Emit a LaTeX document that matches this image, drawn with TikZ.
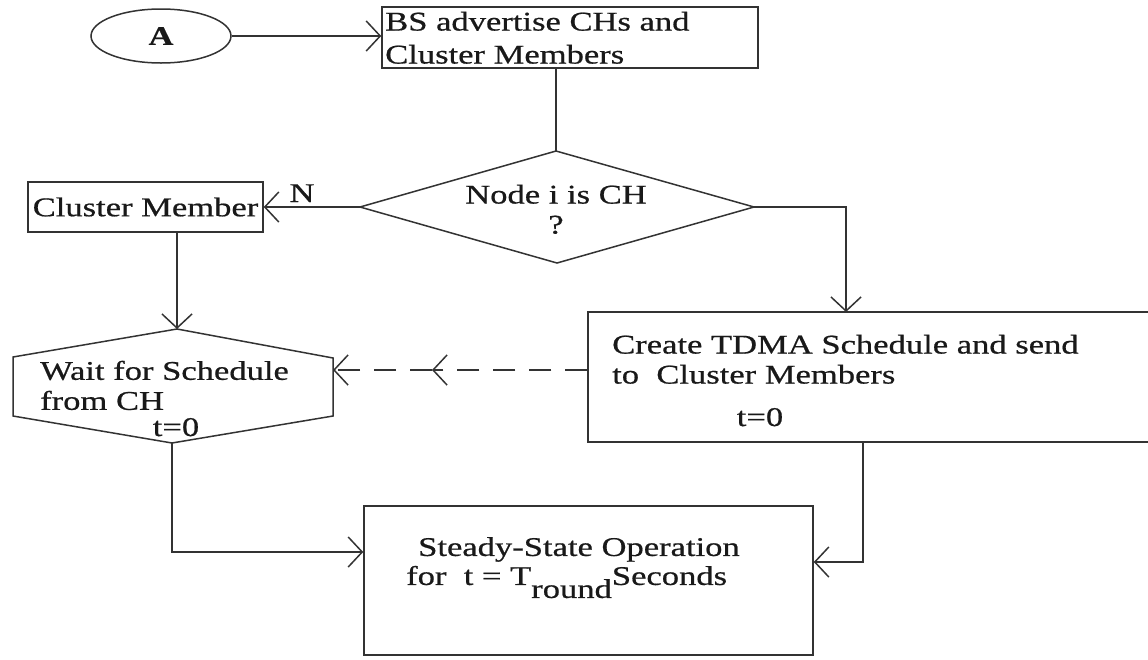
\documentclass[tikz,border=0pt]{standalone}
\usepackage{fontspec}
\setmainfont{Liberation Serif}[FakeStretch=1.28,FakeBold=0.6]
\usetikzlibrary{arrows.meta,shapes.geometric}
\begin{document}
\begin{tikzpicture}[x=1pt,y=-1pt,
  ln/.style={line width=1.5pt, draw=black!80},
  arr/.style={ln, -{Straight Barb[length=14pt,width=30pt,line width=1.5pt]}},
  dsh/.style={arr, dash pattern=on 22pt off 14pt},
  txt/.style={font=\fontsize{27}{30}\selectfont, inner sep=0pt, text=black!90},
  box/.style={ln, draw, fill=none, inner sep=0pt}
]
\useasboundingbox[fill=white] (0,0) rectangle (1148,659);

% ellipse A
\node[box, ellipse, minimum width=140pt, minimum height=54pt, txt] (A) at (161,36) {\bfseries A};

% BS box
\node[box, minimum width=376pt, minimum height=61pt] (BS) at (570,37.5) {};
\node[txt, font=\fontsize{27}{33}\selectfont, anchor=north west, align=left] (BStxt) at (385,11.6) {BS advertise CHs and\\Cluster Members};

% diamond
\coordinate (Dt) at (556,151);
\coordinate (Dr) at (754,207);
\coordinate (Db) at (557,263);
\coordinate (Dl) at (360,207);
\draw[ln] (Dt) -- (Dr) -- (Db) -- (Dl) -- cycle;
\node[txt, align=center, anchor=north] (Dtxt) at (556,184.6) {Node i is CH\\?};

% cluster member
\node[box, minimum width=235pt, minimum height=50pt, txt] (CM) at (145.5,207) {Cluster Member};
\node[txt, anchor=base] (N) at (302,202) {N};

% hexagon
\coordinate (Ht) at (177,329);
\coordinate (Hr1) at (333,358);
\coordinate (Hr2) at (333,416);
\coordinate (Hb) at (172,443);
\coordinate (Hl2) at (13,416);
\coordinate (Hl1) at (13,357);
\coordinate (Hr) at (333,370);
\draw[ln] (Ht) -- (Hr1) -- (Hr2) -- (Hb) -- (Hl2) -- (Hl1) -- cycle;
\node[txt, anchor=north west, align=left] (Wtxt) at (40,360.6) {Wait for Schedule\\from CH};
\node[txt, anchor=base] (Wt) at (176,436) {t=0};

% TDMA box
\node[box, minimum width=564pt, minimum height=130pt] (TD) at (870,377) {};
\node[txt, anchor=north west, align=left] (TDtxt) at (612,334.6) {Create TDMA Schedule and send\\to\ \ Cluster Members};
\node[txt, anchor=base] (TDt) at (760,426) {t=0};
\coordinate (Tt) at (846,312);
\coordinate (Tb) at (863,442);
\coordinate (Dm) at (432,370);

% steady-state box
\node[box, minimum width=449pt, minimum height=149pt] (ST) at (588.5,580.5) {};
\node[txt, font=\fontsize{27}{29}\selectfont, anchor=north west, align=left] (STtxt) at (406,537)
  {\hspace*{12pt}Steady-State Operation\\for\ \ t = T\raisebox{-13pt}{round}Seconds};

% connectors
\draw[arr] (A.east) -- (A.east -| BS.west);
\draw[ln] (Dt |- BS.south) -- (Dt);
\draw[arr] (Dl) -- (CM.east);
\draw[arr] (CM.south -| Ht) -- (Ht);
\draw[arr] (Dr) -| (Tt);
\draw[dsh] ([yshift=7pt]TD.west) -- (Dm);
\draw[dsh] (Dm) -- (Hr);
\draw[arr] (Hb) |- ([yshift=28.5pt]ST.west);
\draw[arr] (Tb) |- ([yshift=18.5pt]ST.east);
\end{tikzpicture}
\end{document}
